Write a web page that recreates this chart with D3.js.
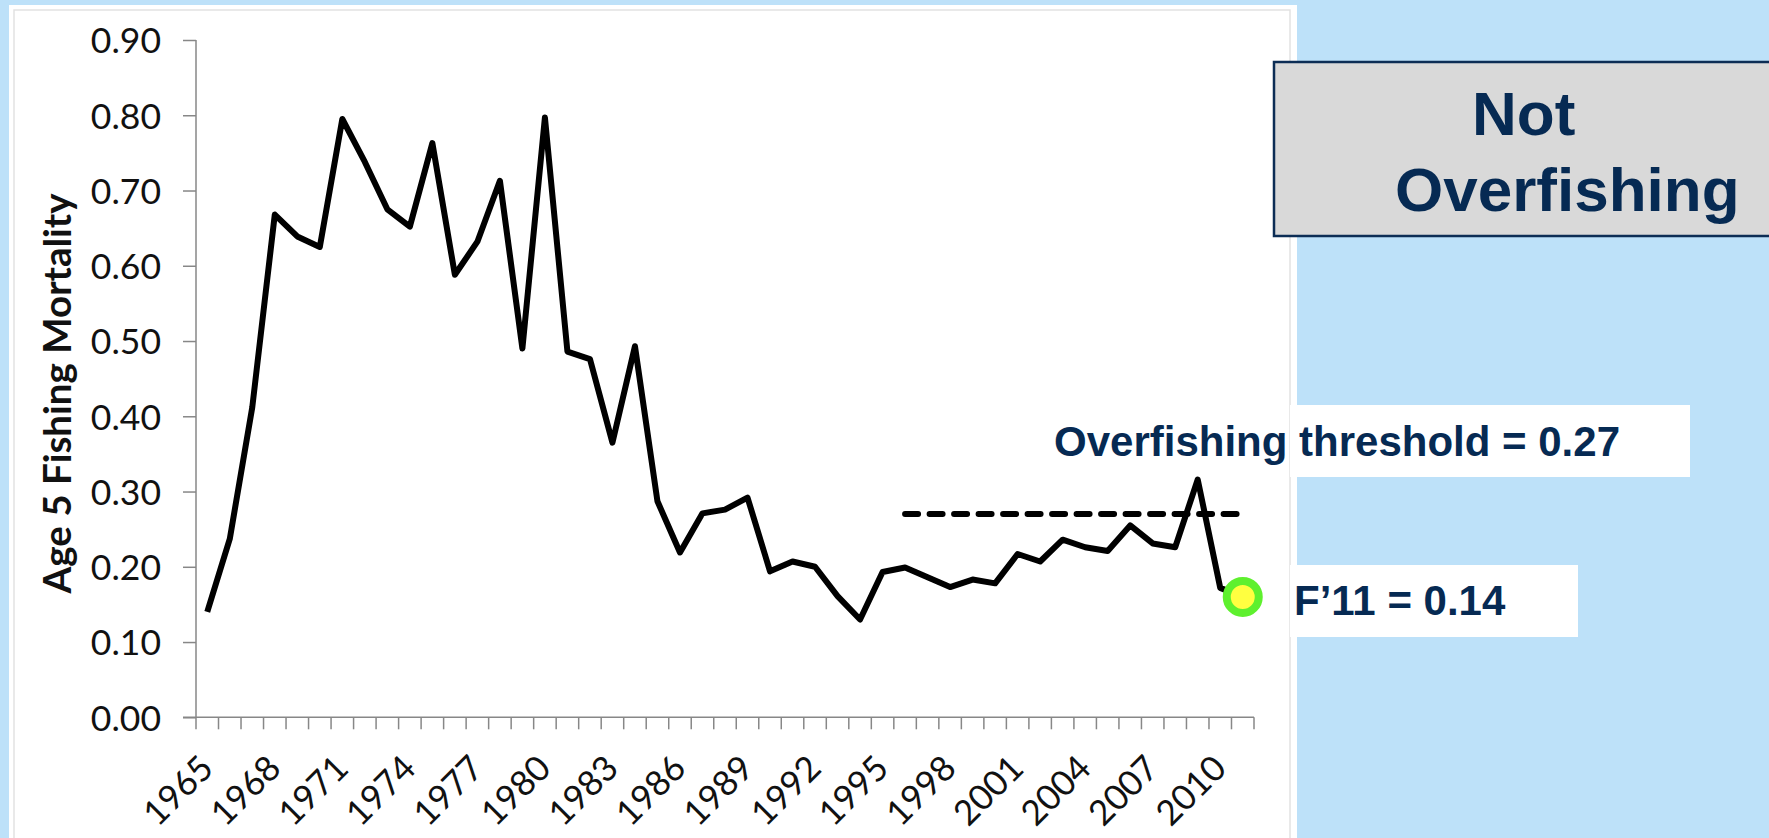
<!DOCTYPE html>
<html>
<head>
<meta charset="utf-8">
<script src="https://cdn.jsdelivr.net/npm/d3@7"></script>
<style>
  html, body { margin: 0; padding: 0; background: #bde1f9; }
  svg { display: block; }
</style>
</head>
<body>
<svg id="chart" width="1769" height="838"></svg>
<script>
// ---------- data ----------
const years = d3.range(1965, 2012).map(String);           // categories 1965..2011
const fishingMortality = [
  0.140, 0.237, 0.412, 0.668, 0.639, 0.625, 0.795, 0.738, 0.675, 0.652,
  0.763, 0.588, 0.632, 0.713, 0.490, 0.797, 0.486, 0.476, 0.365, 0.493,
  0.287, 0.219, 0.271, 0.276, 0.292, 0.194, 0.207, 0.200, 0.161, 0.130,
  0.193, 0.199, 0.186, 0.173, 0.183, 0.178, 0.217, 0.207, 0.236, 0.226,
  0.221, 0.255, 0.231, 0.226, 0.316, 0.172, 0.160
];
const yTicks = [0, 0.1, 0.2, 0.3, 0.4, 0.5, 0.6, 0.7, 0.8, 0.9];
const xLabelYears = d3.range(1965, 2011, 3).map(String);  // 1965, 1968, ... 2010
const thresholdValue = 0.27;
const thresholdYears = ["1996", "2011"];
const markerYear = "2011";
const markerValue = 0.160;
const yTitle = "Age 5 Fishing Mortality";
const thresholdLabel = "Overfishing threshold = 0.27";
const markerLabel = "F\u201911 = 0.14";
const statusLines = ["Not", "Overfishing"];

// ---------- layout ----------
const svg = d3.select("#chart");
const navy = "#062a53";
const axisGrey = "#878787";

// white chart panel
svg.append("rect").attr("x", 9).attr("y", 5).attr("width", 1288).attr("height", 840).attr("fill", "#ffffff");
svg.append("rect").attr("x", 14).attr("y", 10).attr("width", 1276).attr("height", 850)
  .attr("fill", "none").attr("stroke", "#e2e2e2").attr("stroke-width", 1.5);

const x = d3.scaleBand().domain(years).range([196, 1254]).padding(0);
const y = d3.scaleLinear().domain([0, 0.9]).range([717.3, 40]);
const bw = x.bandwidth();
const cx = d => x(d) + bw / 2;

// y axis
const yAxis = d3.axisLeft(y).tickValues(yTicks).tickFormat(d3.format(".2f")).tickSize(13).tickPadding(22);
const gy = svg.append("g").attr("transform", "translate(196,0)").call(yAxis);
gy.select(".domain").attr("stroke", axisGrey).attr("stroke-width", 1.5)
  .attr("d", `M0,${y(0.9)}V${y(0)}`);
gy.selectAll(".tick line").attr("stroke", axisGrey).attr("stroke-width", 1.5);
gy.selectAll(".tick text").attr("fill", "#111").style("font-family", "Lato, 'Open Sans', sans-serif")
  .style("font-size", "35.5px").attr("dy", "0.36em");

// x axis line + ticks at category boundaries
const xg = svg.append("g");
xg.append("line").attr("x1", 183).attr("x2", x.range()[1]).attr("y1", y(0)).attr("y2", y(0))
  .attr("stroke", axisGrey).attr("stroke-width", 1.5);
const boundaries = years.map(d => x(d)).concat([x(years[years.length - 1]) + bw]);
xg.selectAll("line.tk").data(boundaries).join("line").attr("class", "tk")
  .attr("x1", d => d).attr("x2", d => d).attr("y1", y(0)).attr("y2", y(0) + 12)
  .attr("stroke", axisGrey).attr("stroke-width", 1.5);
xg.selectAll("text.xl").data(xLabelYears).join("text").attr("class", "xl")
  .attr("transform", d => `translate(${cx(d) + 8},${y(0) + 53}) rotate(-45)`)
  .attr("text-anchor", "end")
  .style("font-family", "Lato, 'Open Sans', sans-serif").style("font-size", "35px").attr("fill", "#111")
  .text(d => d);

// y title
const yt = svg.append("text")
  .attr("transform", `translate(71,393.5) rotate(-90)`)
  .attr("text-anchor", "middle")
  .style("font-family", "Lato, 'Open Sans', sans-serif").style("font-weight", "bold")
  .style("font-size", "40px").attr("fill", "#111").text(yTitle);
const tl = yt.node().getComputedTextLength();
yt.style("font-size", (40 * 400 / tl).toFixed(2) + "px");

// threshold dashed line
svg.append("line")
  .attr("x1", cx(thresholdYears[0])).attr("x2", cx(thresholdYears[1]))
  .attr("y1", y(thresholdValue)).attr("y2", y(thresholdValue))
  .attr("stroke", "#000").attr("stroke-width", 6)
  .attr("stroke-dasharray", "13,11.5").attr("stroke-linecap", "round");

// main line
const line = d3.line().x((d, i) => cx(years[i])).y(d => y(d));
svg.append("path").datum(fishingMortality).attr("d", line)
  .attr("fill", "none").attr("stroke", "#000").attr("stroke-width", 6)
  .attr("stroke-linejoin", "round");

// label boxes (white) on the right
svg.append("rect").attr("x", 1290).attr("y", 405).attr("width", 400).attr("height", 72).attr("fill", "#fff");
svg.append("rect").attr("x", 1290).attr("y", 565).attr("width", 288).attr("height", 72).attr("fill", "#fff");

// marker
svg.append("circle").attr("cx", cx(markerYear)).attr("cy", y(markerValue)).attr("r", 16)
  .attr("fill", "#ffff40").attr("stroke", "#5ef02e").attr("stroke-width", 8);

const labelFont = "'Liberation Sans', Arial, sans-serif";
svg.append("text").attr("x", 1054).attr("y", 456)
  .style("font-family", labelFont).style("font-weight", "bold").style("font-size", "42px")
  .attr("fill", navy).text(thresholdLabel);
svg.append("text").attr("x", 1294).attr("y", 615)
  .style("font-family", labelFont).style("font-weight", "bold").style("font-size", "42px")
  .attr("fill", navy).text(markerLabel);

// status box
svg.append("rect").attr("x", 1274).attr("y", 62).attr("width", 520).attr("height", 174)
  .attr("fill", "#d9d9d9").attr("stroke", "#0c2d55").attr("stroke-width", 2.5);
svg.append("text").attr("x", 1472).attr("y", 135)
  .style("font-family", labelFont).style("font-weight", "bold").style("font-size", "62px")
  .attr("fill", navy).text(statusLines[0]);
svg.append("text").attr("x", 1395).attr("y", 211)
  .style("font-family", labelFont).style("font-weight", "bold").style("font-size", "62px")
  .attr("fill", navy).text(statusLines[1]);
</script>
</body>
</html>
